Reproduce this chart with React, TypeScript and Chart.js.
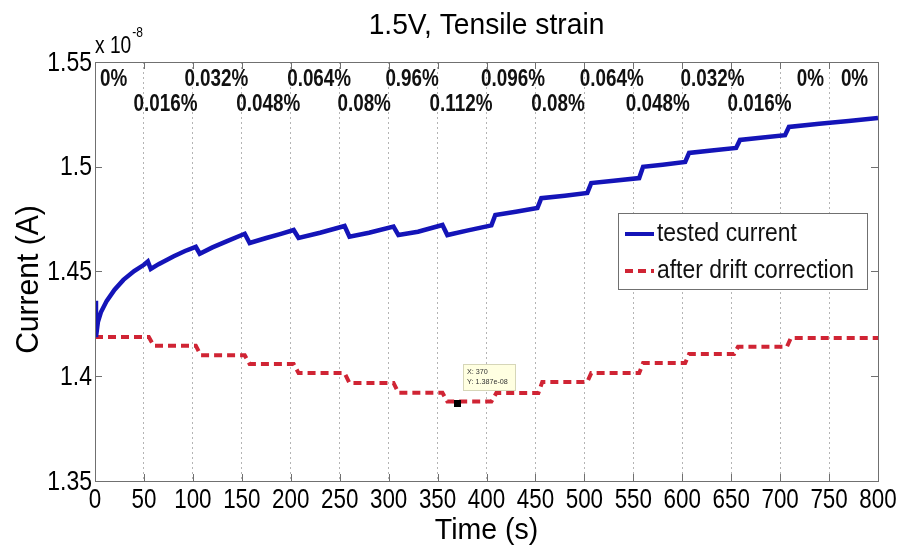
import React, { useEffect, useRef } from 'react';
import { Chart, registerables } from 'chart.js';

Chart.register(...registerables);

const SANS = '"Liberation Sans", Arial, Helvetica, sans-serif';

const titleText = '1.5V, Tensile strain';
const xTitle = 'Time (s)';
const yTitle = 'Current (A)';
const yExponent = '-8';

const seriesNames = ['tested current', 'after drift correction'];

// tested current (x 1e-8 A) vs time (s)
const blueTime = [0, 1, 3, 6, 12, 20, 29, 40, 50, 54, 57, 65, 80, 92, 103, 107, 120, 135, 153, 158, 175, 190, 203, 208, 230, 255, 260, 280, 305, 310, 330, 355, 360, 380, 405, 409, 430, 452, 456, 480, 503, 507, 530, 556, 560, 580, 603, 607, 630, 655, 659, 680, 705, 709, 740, 770, 800];
const blueCurrent = [1.436, 1.4187, 1.426, 1.4305, 1.436, 1.4413, 1.446, 1.4502, 1.4532, 1.4548, 1.4512, 1.4535, 1.4572, 1.4598, 1.4618, 1.4585, 1.4615, 1.4645, 1.468, 1.4636, 1.466, 1.468, 1.4698, 1.466, 1.4685, 1.4717, 1.4666, 1.4685, 1.4714, 1.4674, 1.469, 1.4722, 1.4674, 1.4695, 1.472, 1.477, 1.4785, 1.4803, 1.485, 1.4862, 1.4875, 1.4922, 1.4933, 1.4946, 1.5, 1.501, 1.5023, 1.5066, 1.5078, 1.509, 1.5128, 1.5138, 1.5151, 1.519, 1.5205, 1.5218, 1.5233];

// after drift correction
const redTime = [0, 55, 60, 103, 108, 153, 158, 203, 208, 255, 260, 305, 310, 355, 360, 405, 410, 453, 457, 503, 507, 556, 560, 603, 607, 653, 657, 707, 711, 800];
const redCurrent = [1.4187, 1.4187, 1.4146, 1.4146, 1.41, 1.41, 1.4058, 1.4058, 1.4015, 1.4015, 1.3968, 1.3968, 1.3921, 1.3921, 1.3879, 1.3879, 1.392, 1.392, 1.3973, 1.3973, 1.4015, 1.4015, 1.4063, 1.4063, 1.4106, 1.4106, 1.4141, 1.4141, 1.4183, 1.4183];

// strain annotations
const strainLabels = ['0%', '0.016%', '0.032%', '0.048%', '0.064%', '0.08%', '0.96%', '0.112%', '0.096%', '0.08%', '0.064%', '0.048%', '0.032%', '0.016%', '0%', '0%'];
const strainTimes = [19, 72, 124, 177, 229, 275, 324, 374, 427, 473, 528, 575, 631, 679, 731, 776];
const strainRows = [0, 1, 0, 1, 0, 1, 0, 1, 0, 1, 0, 1, 0, 1, 0, 0];

// data tip
const tipTime = 370;
const tipCurrent = 1.387;
const tipLines = ['X: 370', 'Y: 1.387e-08'];

const xMin = 0, xMax = 800, xStep = 50;
const yMin = 1.35, yMax = 1.55, yStep = 0.05;

const BLUE = '#1414b8';
const RED = '#d02434';

function sText(ctx: CanvasRenderingContext2D, text: string, x: number, y: number, font: string, align: CanvasTextAlign, sx: number, color = '#000') {
  ctx.save();
  ctx.translate(x, y);
  ctx.scale(sx, 1);
  ctx.font = font;
  ctx.fillStyle = color;
  ctx.textAlign = align;
  ctx.textBaseline = 'middle';
  ctx.fillText(text, 0, 0);
  ctx.restore();
}

const fmtY = (v: number) => String(Number(Number(v).toFixed(2)));

const decor = {
  id: 'decor',
  afterDraw(chart: any) {
    const ctx: CanvasRenderingContext2D = chart.ctx;
    const { left, right, top, bottom } = chart.chartArea;
    const xs = chart.scales.x;
    const ys = chart.scales.y;
    ctx.save();
    // box
    ctx.strokeStyle = '#707070';
    ctx.lineWidth = 1;
    ctx.setLineDash([]);
    ctx.strokeRect(Math.round(left) + 0.5, Math.round(top) + 0.5, Math.round(right - left), Math.round(bottom - top));
    // inward ticks
    ctx.beginPath();
    ys.ticks.forEach((t: any) => {
      const y = Math.round(ys.getPixelForValue(t.value)) + 0.5;
      if (y < top + 2 || y > bottom - 2) return;
      ctx.moveTo(left, y); ctx.lineTo(left + 7, y);
      ctx.moveTo(right, y); ctx.lineTo(right - 7, y);
    });
    xs.ticks.forEach((t: any) => {
      const x = Math.round(xs.getPixelForValue(t.value)) + 0.5;
      if (x < left + 2 || x > right - 2) return;
      ctx.moveTo(x, bottom); ctx.lineTo(x, bottom - 7);
      ctx.moveTo(x, top); ctx.lineTo(x, top + 7);
    });
    ctx.stroke();

    // tick labels (condensed, like the original)
    ys.ticks.forEach((t: any) => {
      const y = ys.getPixelForValue(t.value);
      sText(ctx, fmtY(t.value), left - 3, y + 1, `28px ${SANS}`, 'right', 0.82);
    });
    xs.ticks.forEach((t: any) => {
      const x = xs.getPixelForValue(t.value);
      sText(ctx, String(t.value), x, bottom + 19, `28px ${SANS}`, 'center', 0.8);
    });

    // title
    sText(ctx, titleText, (left + right) / 2, 26, `30px ${SANS}`, 'center', 0.94);
    // axis titles
    sText(ctx, xTitle, (left + right) / 2, 531, `30px ${SANS}`, 'center', 0.95);
    ctx.save();
    ctx.translate(29, (top + bottom) / 2 + 8);
    ctx.rotate(-Math.PI / 2);
    sText(ctx, yTitle, 0, 0, `31px ${SANS}`, 'center', 0.97);
    ctx.restore();
    // exponent
    sText(ctx, 'x 10', left, top - 16, `24px ${SANS}`, 'left', 0.8);
    ctx.font = `24px ${SANS}`;
    const w10 = ctx.measureText('x 10').width * 0.8;
    sText(ctx, yExponent, left + w10 + 1, top - 29, `15px ${SANS}`, 'left', 0.8);

    // strain labels
    strainLabels.forEach((lab, i) => {
      const x = xs.getPixelForValue(strainTimes[i]);
      const y = strainRows[i] === 0 ? 80 : 105;
      sText(ctx, lab, x, y, `bold 23px ${SANS}`, 'center', 0.82, '#111');
    });

    // legend
    const lx = 618, ly = 213, lw = 249, lh = 76;
    ctx.fillStyle = '#fff';
    ctx.fillRect(lx, ly, lw, lh);
    ctx.strokeStyle = '#707070';
    ctx.lineWidth = 1;
    ctx.strokeRect(lx + 0.5, ly + 0.5, lw, lh);
    const rows = [234, 271];
    chart.data.datasets.forEach((ds: any, i: number) => {
      ctx.save();
      ctx.strokeStyle = ds.borderColor;
      ctx.lineWidth = 4;
      ctx.setLineDash(ds.borderDash || []);
      ctx.beginPath();
      ctx.moveTo(625, rows[i]);
      ctx.lineTo(654, rows[i]);
      ctx.stroke();
      ctx.restore();
      sText(ctx, ds.label, 657, rows[i], `26px ${SANS}`, 'left', 0.88, '#111');
    });

    // data tip
    const mx = xs.getPixelForValue(tipTime);
    const my = ys.getPixelForValue(tipCurrent);
    ctx.fillStyle = '#000';
    ctx.fillRect(Math.round(mx) - 3, Math.round(my) - 3, 7, 7);
    const bx = Math.round(mx) + 6, by = Math.round(my) - 39;
    ctx.fillStyle = '#ffffe1';
    ctx.fillRect(bx, by, 52, 26);
    ctx.strokeStyle = '#d6d6b8';
    ctx.strokeRect(bx + 0.5, by + 0.5, 52, 26);
    sText(ctx, tipLines[0], bx + 4, by + 8, `8px ${SANS}`, 'left', 0.9, '#333');
    sText(ctx, tipLines[1], bx + 4, by + 18, `8px ${SANS}`, 'left', 0.9, '#333');
    ctx.restore();
  },
};

export default function App() {
  const ref = useRef<HTMLCanvasElement | null>(null);
  useEffect(() => {
    document.body.style.margin = '0';
    const canvas = ref.current;
    if (!canvas) return;
    const chart = new Chart(canvas, {
      type: 'line',
      data: {
        datasets: [
          {
            label: seriesNames[0],
            data: blueTime.map((t, i) => ({ x: t, y: blueCurrent[i] })),
            borderColor: BLUE,
            borderWidth: 4.5,
            pointRadius: 0,
            tension: 0,
            fill: false,
          },
          {
            label: seriesNames[1],
            data: redTime.map((t, i) => ({ x: t, y: redCurrent[i] })),
            borderColor: RED,
            borderWidth: 4,
            borderDash: [8, 5],
            borderCapStyle: 'butt',
            pointRadius: 0,
            tension: 0,
            fill: false,
          },
        ],
      },
      options: {
        responsive: false,
        animation: false,
        events: [],
        layout: { padding: { top: 62, right: 26, left: 0, bottom: 0 } },
        plugins: { legend: { display: false }, tooltip: { enabled: false }, title: { display: false } },
        scales: {
          x: {
            type: 'linear',
            min: xMin,
            max: xMax,
            afterFit: (s: any) => { s.height = 74; },
            ticks: {
              display: false,
              stepSize: xStep,
              maxRotation: 0,
              autoSkip: false,
            },
            grid: { color: '#b4b4b4', lineWidth: 1, drawTicks: false },
            border: { display: false, dash: [2, 3] },
          },
          y: {
            type: 'linear',
            min: yMin,
            max: yMax,
            afterFit: (s: any) => { s.width = 95; },
            ticks: {
              display: false,
              stepSize: yStep,
            },
            grid: { display: false, drawTicks: false },
            border: { display: false },
          },
        },
      },
      plugins: [decor],
    } as any);
    return () => chart.destroy();
  }, []);
  return (
    <div style={{ width: 904, height: 555, background: '#fff' }}>
      <canvas ref={ref} width={904} height={555} style={{ display: 'block' }} />
    </div>
  );
}
